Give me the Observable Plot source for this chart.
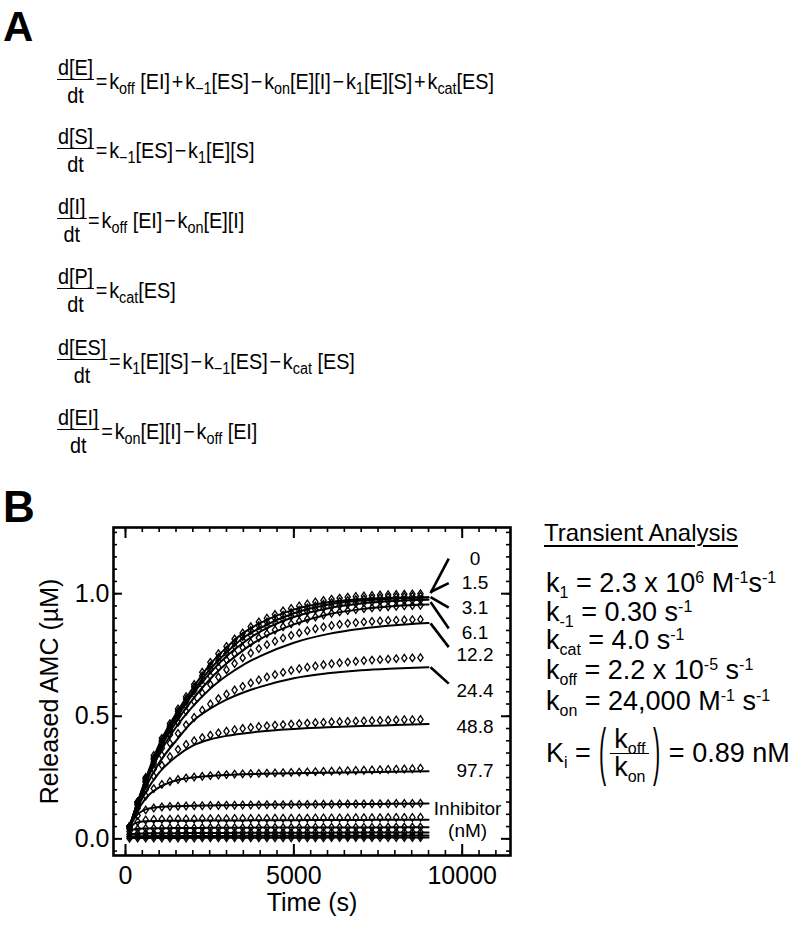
<!DOCTYPE html>
<html>
<head>
<meta charset="utf-8">
<script src="https://cdn.jsdelivr.net/npm/d3@7"></script>
<script src="https://cdn.jsdelivr.net/npm/@observablehq/plot@0.6"></script>
<style>
  html, body { margin: 0; padding: 0; background: #fff; }
  #page { position: relative; width: 800px; height: 925px; overflow: hidden; font-family: "Liberation Sans", Arial, sans-serif; color: #000; }
  .abs { position: absolute; line-height: 1; white-space: nowrap; }
  .panel { font-weight: bold; }
  .eq { position: absolute; left: 57px; display: flex; align-items: center; font-size: 22px; white-space: nowrap; transform: scaleX(0.9); transform-origin: 0 50%; }
  .frac { display: inline-flex; flex-direction: column; align-items: stretch; text-align: center; }
  .frac .num { border-bottom: 1.7px solid #000; line-height: 22px; padding: 0 1px; }
  .frac .den { line-height: 22px; padding-top: 5px; }
  .rhs { line-height: 1; }
  .rhs sub { font-size: 16px; vertical-align: -5px; line-height: 0; }
  .op { margin: 0 2px; }
  .p { font-size: 27px; }
  .p sub { font-size: 16px; vertical-align: -6px; line-height: 0; }
  .p sup { font-size: 16px; vertical-align: 9px; line-height: 0; }
  .ki { position: absolute; left: 546px; display: flex; align-items: center; font-size: 27px; white-space: nowrap; height: 60px; }
  .ki sub { font-size: 16px; vertical-align: -6px; line-height: 0; }
  .kfrac { display: inline-flex; flex-direction: column; align-items: stretch; text-align: center; margin: 0 3px; }
  .kfrac .n { border-bottom: 1.7px solid #000; line-height: 27px; padding: 0 4px; }
  .kfrac .d { line-height: 27px; }
  .paren { display: inline-block; transform: scale(0.8, 2.3); line-height: 1; }
  #plotB { position: absolute; left: 0; top: 480px; }
</style>
</head>
<body>
<div id="page">
  <div class="abs panel" style="left:3px; top:6px; font-size:42px;">A</div>

  <div class="eq" style="top:57px"><span class="frac"><span class="num">d[E]</span><span class="den">dt</span></span><span class="rhs"><span class="op">=</span>k<sub>off</sub>&nbsp;[EI]<span class="op">+</span>k<sub>−1</sub>[ES]<span class="op">−</span>k<sub>on</sub>[E][I]<span class="op">−</span>k<sub>1</sub>[E][S]<span class="op">+</span>k<sub>cat</sub>[ES]</span></div>
  <div class="eq" style="top:126px"><span class="frac"><span class="num">d[S]</span><span class="den">dt</span></span><span class="rhs"><span class="op">=</span>k<sub>−1</sub>[ES]<span class="op">−</span>k<sub>1</sub>[E][S]</span></div>
  <div class="eq" style="top:196px"><span class="frac"><span class="num">d[I]</span><span class="den">dt</span></span><span class="rhs"><span class="op">=</span>k<sub>off</sub>&nbsp;[EI]<span class="op">−</span>k<sub>on</sub>[E][I]</span></div>
  <div class="eq" style="top:266px"><span class="frac"><span class="num">d[P]</span><span class="den">dt</span></span><span class="rhs"><span class="op">=</span>k<sub>cat</sub>[ES]</span></div>
  <div class="eq" style="top:337px"><span class="frac"><span class="num">d[ES]</span><span class="den">dt</span></span><span class="rhs"><span class="op">=</span>k<sub>1</sub>[E][S]<span class="op">−</span>k<sub>−1</sub>[ES]<span class="op">−</span>k<sub>cat</sub>&nbsp;[ES]</span></div>
  <div class="eq" style="top:407px"><span class="frac"><span class="num">d[EI]</span><span class="den">dt</span></span><span class="rhs"><span class="op">=</span>k<sub>on</sub>[E][I]<span class="op">−</span>k<sub>off</sub>&nbsp;[EI]</span></div>

  <div class="abs panel" style="left:3px; top:485px; font-size:44px;">B</div>

  <div id="plotB"></div>

  <div class="abs" style="left:544px; top:521px; font-size:24px; text-decoration:underline; text-underline-offset:4px;">Transient Analysis</div>
  <div class="abs p" style="left:546px; top:570px;">k<sub>1</sub> = 2.3 x 10<sup>6</sup> M<sup>-1</sup>s<sup>-1</sup></div>
  <div class="abs p" style="left:546px; top:599px;">k<sub>-1</sub> = 0.30 s<sup>-1</sup></div>
  <div class="abs p" style="left:546px; top:627px;">k<sub>cat</sub> = 4.0 s<sup>-1</sup></div>
  <div class="abs p" style="left:546px; top:657px;">k<sub>off</sub> = 2.2 x 10<sup>-5</sup> s<sup>-1</sup></div>
  <div class="abs p" style="left:546px; top:688px;">k<sub>on</sub> = 24,000 M<sup>-1</sup> s<sup>-1</sup></div>
  <div class="ki" style="top:723px;"><span>K<sub>i</sub>&nbsp;=&nbsp;</span><span class="paren">(</span><span class="kfrac"><span class="n">k<sub>off</sub></span><span class="d">k<sub>on</sub></span></span><span class="paren">)</span><span>&nbsp;=&nbsp;0.89 nM</span></div>
</div>

<script>
// ---------------- data ----------------
const inhibitorNM = ["0", "1.5", "3.1", "6.1", "12.2", "24.4", "48.8", "97.7", "195", "391", "781", "1563", "3125", "6250"];

const obsTime = [120, 360, 600, 840, 1080, 1320, 1560, 1800, 2040, 2280, 2520, 2760, 3000, 3240, 3480, 3720, 3960, 4200, 4440, 4680, 4920, 5160, 5400, 5640, 5880, 6120, 6360, 6600, 6840, 7080, 7320, 7560, 7800, 8040, 8280, 8520, 8760];
const fitTime = [100, 300, 600, 1000, 1500, 2000, 2500, 3000, 3500, 4000, 5000, 6000, 7000, 8000, 9000];

// observed released AMC (µM), one value per obsTime
const obs0    = [0.05,0.15,0.25,0.34,0.41,0.47,0.53,0.58,0.63,0.68,0.72,0.755,0.785,0.815,0.84,0.865,0.885,0.90,0.915,0.93,0.94,0.95,0.958,0.966,0.972,0.978,0.982,0.986,0.989,0.991,0.993,0.995,0.996,0.997,0.998,0.999,1.0];
const obs1_5  = [0.05,0.15,0.245,0.33,0.40,0.46,0.52,0.57,0.62,0.665,0.705,0.74,0.77,0.80,0.825,0.85,0.87,0.885,0.90,0.912,0.923,0.933,0.942,0.95,0.957,0.963,0.968,0.972,0.976,0.979,0.982,0.984,0.986,0.987,0.988,0.989,0.99];
const obs3_1  = [0.05,0.15,0.24,0.325,0.395,0.455,0.51,0.56,0.605,0.65,0.69,0.725,0.755,0.785,0.81,0.832,0.852,0.868,0.883,0.896,0.908,0.918,0.927,0.935,0.942,0.948,0.953,0.957,0.961,0.964,0.967,0.969,0.971,0.972,0.973,0.974,0.975];
const obs6_1  = [0.05,0.145,0.235,0.315,0.385,0.445,0.50,0.545,0.59,0.63,0.665,0.70,0.73,0.755,0.78,0.80,0.82,0.837,0.852,0.865,0.877,0.888,0.897,0.905,0.913,0.92,0.926,0.931,0.935,0.939,0.942,0.945,0.947,0.949,0.951,0.952,0.953];
const obs12_2 = [0.05,0.145,0.23,0.305,0.37,0.425,0.475,0.52,0.56,0.595,0.63,0.66,0.69,0.715,0.738,0.758,0.776,0.792,0.806,0.819,0.83,0.84,0.849,0.857,0.864,0.87,0.875,0.879,0.882,0.885,0.887,0.889,0.891,0.892,0.893,0.894,0.895];
const obs24_4 = [0.05,0.14,0.22,0.285,0.34,0.39,0.43,0.465,0.495,0.525,0.55,0.572,0.59,0.607,0.622,0.636,0.648,0.66,0.67,0.679,0.687,0.694,0.70,0.705,0.71,0.714,0.718,0.721,0.724,0.727,0.729,0.731,0.733,0.735,0.737,0.738,0.739];
const obs48_8 = [0.05,0.135,0.20,0.255,0.30,0.335,0.365,0.385,0.40,0.413,0.423,0.432,0.439,0.445,0.45,0.454,0.458,0.461,0.464,0.466,0.468,0.47,0.472,0.474,0.475,0.477,0.478,0.479,0.48,0.481,0.482,0.483,0.484,0.485,0.486,0.486,0.487];
const obs97_7 = [0.05,0.125,0.175,0.205,0.222,0.234,0.242,0.248,0.252,0.255,0.258,0.26,0.262,0.264,0.265,0.266,0.267,0.268,0.269,0.27,0.271,0.272,0.273,0.274,0.275,0.276,0.277,0.278,0.279,0.28,0.281,0.282,0.283,0.284,0.285,0.286,0.288];
const obs195  = [0.045,0.095,0.118,0.126,0.13,0.132,0.133,0.134,0.135,0.135,0.136,0.136,0.137,0.137,0.138,0.138,0.138,0.139,0.139,0.139,0.14,0.14,0.14,0.141,0.141,0.141,0.142,0.142,0.142,0.142,0.143,0.143,0.143,0.144,0.144,0.144,0.145];
const obs391  = [0.04,0.07,0.077,0.079,0.08,0.08,0.081,0.081,0.081,0.082,0.082,0.082,0.082,0.083,0.083,0.083,0.083,0.083,0.084,0.084,0.084,0.084,0.084,0.085,0.085,0.085,0.085,0.085,0.086,0.086,0.086,0.086,0.087,0.087,0.087,0.087,0.088];
const obs781  = [0.03,0.04,0.042,0.043,0.043,0.044,0.044,0.044,0.044,0.045,0.045,0.045,0.045,0.045,0.045,0.046,0.046,0.046,0.046,0.046,0.046,0.046,0.046,0.047,0.047,0.047,0.047,0.047,0.047,0.047,0.047,0.047,0.048,0.048,0.048,0.048,0.048];
const obs1563 = [0.018,0.021,0.022,0.022,0.023,0.023,0.023,0.023,0.024,0.024,0.024,0.024,0.024,0.024,0.025,0.025,0.025,0.025,0.025,0.025,0.025,0.025,0.026,0.026,0.026,0.026,0.026,0.026,0.026,0.026,0.027,0.027,0.027,0.027,0.027,0.027,0.027];
const obs3125 = [0.009,0.010,0.011,0.011,0.011,0.011,0.011,0.012,0.012,0.012,0.012,0.012,0.012,0.012,0.012,0.012,0.012,0.012,0.013,0.013,0.013,0.013,0.013,0.013,0.013,0.013,0.013,0.013,0.013,0.013,0.013,0.014,0.014,0.014,0.014,0.014,0.014];
const obs6250 = [0.002,0.003,0.003,0.003,0.003,0.003,0.003,0.003,0.003,0.004,0.004,0.004,0.004,0.004,0.004,0.004,0.004,0.004,0.004,0.004,0.004,0.004,0.004,0.004,0.004,0.005,0.005,0.005,0.005,0.005,0.005,0.005,0.005,0.005,0.005,0.005,0.005];

// fitted curves, one value per fitTime
const fit0    = [0.04,0.125,0.245,0.385,0.51,0.615,0.71,0.78,0.84,0.88,0.935,0.965,0.978,0.983,0.985];
const fit1_5  = [0.04,0.125,0.24,0.375,0.50,0.60,0.69,0.76,0.82,0.86,0.92,0.955,0.972,0.98,0.984];
const fit3_1  = [0.04,0.125,0.235,0.37,0.49,0.59,0.675,0.745,0.80,0.845,0.905,0.94,0.96,0.97,0.975];
const fit6_1  = [0.04,0.12,0.23,0.36,0.475,0.57,0.65,0.715,0.77,0.815,0.875,0.915,0.937,0.95,0.956];
const fit12_2 = [0.04,0.12,0.225,0.345,0.455,0.54,0.61,0.665,0.71,0.745,0.80,0.835,0.857,0.871,0.88];
const fit24_4 = [0.04,0.115,0.21,0.31,0.40,0.48,0.53,0.568,0.597,0.62,0.655,0.675,0.688,0.695,0.70];
const fit48_8 = [0.04,0.11,0.19,0.27,0.335,0.38,0.405,0.42,0.43,0.438,0.448,0.455,0.46,0.464,0.468];
const fit97_7 = [0.04,0.10,0.165,0.21,0.238,0.25,0.256,0.26,0.263,0.265,0.268,0.27,0.272,0.274,0.276];
const fit195  = [0.04,0.09,0.12,0.13,0.133,0.135,0.136,0.137,0.138,0.139,0.14,0.141,0.142,0.143,0.144];
const fit391  = [0.035,0.065,0.072,0.073,0.074,0.074,0.075,0.075,0.075,0.076,0.076,0.077,0.077,0.078,0.078];
const fit781  = [0.03,0.04,0.042,0.043,0.044,0.044,0.045,0.045,0.045,0.046,0.046,0.046,0.046,0.047,0.047];
const fit1563 = [0.018,0.021,0.022,0.023,0.023,0.024,0.024,0.024,0.025,0.025,0.025,0.025,0.026,0.026,0.026];
const fit3125 = [0.009,0.011,0.011,0.012,0.012,0.012,0.012,0.012,0.013,0.013,0.013,0.013,0.013,0.013,0.014];
const fit6250 = [0.002,0.003,0.003,0.003,0.003,0.004,0.004,0.004,0.004,0.004,0.004,0.005,0.005,0.005,0.005];

// axis ticks
const xMajorTicks = [0, 5000, 10000];
const xMinorTicks = [0, 500, 1000, 1500, 2000, 2500, 3000, 3500, 4000, 4500, 5000, 5500, 6000, 6500, 7000, 7500, 8000, 8500, 9000, 9500, 10000, 10500, 11000];
const yMajorTicks = [0, 0.5, 1.0];
const yMinorTicks = [-0.05, 0, 0.05, 0.1, 0.15, 0.2, 0.25, 0.3, 0.35, 0.4, 0.45, 0.5, 0.55, 0.6, 0.65, 0.7, 0.75, 0.8, 0.85, 0.9, 0.95, 1.0, 1.05, 1.1, 1.15, 1.2, 1.25];

// concentration labels at the right of the curves
const labelText = ["0", "1.5", "3.1", "6.1", "12.2", "24.4", "48.8", "97.7"];
const labelY    = [1.143, 1.046, 0.944, 0.840, 0.752, 0.602, 0.455, 0.276];
const labelT    = 10380;
const legendText = ["Inhibitor", "(nM)"];
const legendY    = [0.122, 0.034];
const legendT    = 10160;
// pointer strokes from curve ends to labels
const pointerY1 = [1.002, 1.007, 0.986, 0.966, 0.879, 0.700];
const pointerY2 = [1.143, 1.043, 0.943, 0.858, 0.782, 0.633];
const pointerT1 = 9060;
const pointerT2 = 9600;

// ---------------- build ----------------
const obsSeries = [obs0, obs1_5, obs3_1, obs6_1, obs12_2, obs24_4, obs48_8, obs97_7, obs195, obs391, obs781, obs1563, obs3125, obs6250];
const fitSeries = [fit0, fit1_5, fit3_1, fit6_1, fit12_2, fit24_4, fit48_8, fit97_7, fit195, fit391, fit781, fit1563, fit3125, fit6250];

const obsData = obsSeries.flatMap((vals, i) => vals.map((v, j) => ({series: inhibitorNM[i], t: obsTime[j], v})));
const fitData = fitSeries.flatMap((vals, i) => vals.map((v, j) => ({series: inhibitorNM[i], t: fitTime[j], v})));
const labels = labelText.map((s, i) => ({s, y: labelY[i]}));
const legend = legendText.map((s, i) => ({s, y: legendY[i]}));
const pointers = pointerY1.map((y1, i) => ({y1, y2: pointerY2[i]}));

const tallDiamond = {
  draw(ctx, size) {
    const r = Math.sqrt(size / Math.PI);
    const w = r * 0.78, h = r * 1.12;
    ctx.moveTo(0, -h); ctx.lineTo(w, 0); ctx.lineTo(0, h); ctx.lineTo(-w, 0); ctx.closePath();
  }
};

const W = 530, H = 445, ML = 113, MR = 20, MT = 47, MB = 70;
const FW = W - ML - MR, FH = H - MT - MB;

const chart = Plot.plot({
  width: W, height: H,
  marginLeft: ML, marginRight: MR, marginTop: MT, marginBottom: MB,
  style: {fontFamily: "'Liberation Sans', Arial, sans-serif", fontSize: "25px", color: "black", background: "transparent", overflow: "visible"},
  x: {domain: [-356, 11434], ticks: xMajorTicks, tickFormat: d3.format("d"), tickSize: 0, tickPadding: 11, label: null},
  y: {domain: [-0.068, 1.27], ticks: yMajorTicks, tickFormat: d3.format(".1f"), tickSize: 0, tickPadding: 4, label: null},
  marks: [
    // inward ticks on all four sides
    Plot.tickX(xMinorTicks, {x: d => d, insetTop: FH - 5, stroke: "black", strokeWidth: 1.6}),
    Plot.tickX(xMinorTicks, {x: d => d, insetBottom: FH - 5, stroke: "black", strokeWidth: 1.6}),
    Plot.tickX(xMajorTicks, {x: d => d, insetTop: FH - 11, stroke: "black", strokeWidth: 2}),
    Plot.tickX(xMajorTicks, {x: d => d, insetBottom: FH - 11, stroke: "black", strokeWidth: 2}),
    Plot.tickY(yMinorTicks, {y: d => d, insetRight: FW - 4, stroke: "black", strokeWidth: 1.6}),
    Plot.tickY(yMinorTicks, {y: d => d, insetLeft: FW - 4, stroke: "black", strokeWidth: 1.6}),
    Plot.tickY(yMajorTicks, {y: d => d, insetRight: FW - 9, stroke: "black", strokeWidth: 2}),
    Plot.tickY(yMajorTicks, {y: d => d, insetLeft: FW - 9, stroke: "black", strokeWidth: 2}),
    Plot.frame({stroke: "black", strokeWidth: 2.6}),
    // data
    Plot.dot(obsData, {x: "t", y: "v", symbol: tallDiamond, r: 3.4, stroke: "black", strokeWidth: 1.3, fill: "none"}),
    Plot.line(fitData, {x: "t", y: "v", z: "series", curve: "monotone-x", stroke: "black", strokeWidth: 2}),
    // annotations
    Plot.link(pointers, {x1: pointerT1, x2: pointerT2, y1: "y1", y2: "y2", stroke: "black", strokeWidth: 2.6}),
    Plot.text(labels, {x: labelT, y: "y", text: "s", fontSize: 19, textAnchor: "middle", fill: "black"}),
    Plot.text(legend, {x: legendT, y: "y", text: "s", fontSize: 19, textAnchor: "middle", fill: "black"}),
    // axis titles
    Plot.text(["Time (s)"], {frameAnchor: "bottom", dy: 47, lineAnchor: "middle", text: d => d, fontSize: 25, fill: "black"}),
    Plot.text(["Released AMC (µM)"], {frameAnchor: "left", dx: -64, rotate: -90, textAnchor: "middle", lineAnchor: "middle", text: d => d, fontSize: 25, fill: "black"})
  ]
});
document.getElementById("plotB").appendChild(chart);
</script>
</body>
</html>
